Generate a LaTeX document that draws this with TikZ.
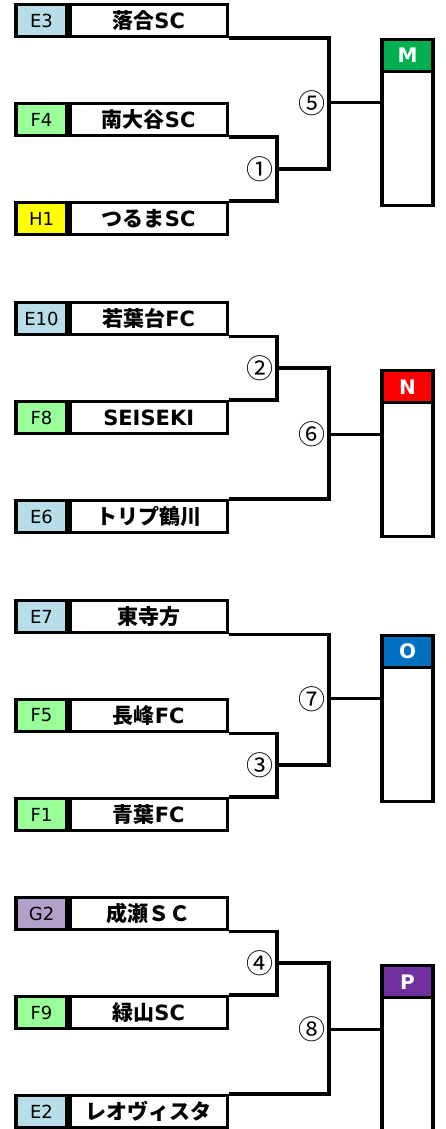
\documentclass[tikz,border=0pt]{standalone}
\usepackage{fontspec}
\usetikzlibrary{positioning}
\newfontfamily\latfont{DejaVu Sans}
\newfontfamily\jpfont{Noto Sans CJK JP}
\newcommand\jp[1]{{\jpfont\bfseries #1}}
\definecolor{seedE}{HTML}{B7DEE8}
\definecolor{seedF}{HTML}{99FF99}
\definecolor{seedG}{HTML}{B1A0C7}
\definecolor{seedH}{HTML}{FFFF00}
\definecolor{blockM}{HTML}{00B050}
\definecolor{blockN}{HTML}{FF0000}
\definecolor{blockO}{HTML}{0070C0}
\definecolor{blockP}{HTML}{7030A0}
\tikzset{
    wire/.style={line width=3.2pt},
    seed/.style={draw, line width=3.2pt, minimum width=51pt, minimum height=32pt, inner sep=0pt,
        font=\latfont\fontsize{18}{18}\selectfont},
    team/.style={draw, line width=3.2pt, minimum width=157pt, minimum height=32pt, inner sep=0pt,
        font=\latfont\bfseries\fontsize{21}{21}\selectfont},
    final/.style={draw, line width=3.2pt, minimum width=51pt, minimum height=166pt, anchor=north},
    head/.style={draw, line width=3.2pt, minimum width=51pt, minimum height=32pt, inner sep=0pt,
        anchor=north, text=white, font=\latfont\bfseries\fontsize{20}{20}\selectfont},
    match/.style={anchor=east, inner sep=0pt, font=\jpfont\fontsize{27}{27}\selectfont},
}

\begin{document}
\begin{tikzpicture}[x=1pt, y=1pt]
    \useasboundingbox (0,0) rectangle (445,-1129);
    % block M
    \begin{scope}
        \node[seed, fill=seedE] (sE3) at (41.5,-20.5) {E3};
        \node[team, right=0pt of sE3] (tE3) {\jp{落合}SC};
        \node[seed, fill=seedF] (sF4) at (41.5,-119.5) {F4};
        \node[team, right=0pt of sF4] (tF4) {\jp{南大谷}SC};
        \node[seed, fill=seedH] (sH1) at (41.5,-218.5) {H1};
        \node[team, right=0pt of sH1] (tH1) {\jp{つるま}SC};
        \coordinate (w1) at (277,-169);
        \coordinate (w5) at (329,-102.75);
        \draw[wire] (tF4.south east) -| (w1) |- (tH1.north east);
        \draw[wire] (tE3.south east) -| (w5) |- (w1);
        \node[match] (m1) at ([xshift=-3pt]w1) {①};
        \node[match] (m5) at ([xshift=-3pt]w5) {⑤};
        \node[final] (fM) at (407.5,-37.75) {};
        \node[head, fill=blockM] (hM) at (fM.north) {M};
        \draw[wire] (w5) -- (w5 -| fM.west);
    \end{scope}
    % block N
    \begin{scope}[yshift=-298pt]
        \node[seed, fill=seedE] (sE10) at (41.5,-20.5) {E10};
        \node[team, right=0pt of sE10] (tE10) {\jp{若葉台}FC};
        \node[seed, fill=seedF] (sF8) at (41.5,-119.5) {F8};
        \node[team, right=0pt of sF8] (tF8) {SEISEKI};
        \node[seed, fill=seedE] (sE6) at (41.5,-218.5) {E6};
        \node[team, right=0pt of sE6] (tE6) {\jp{トリプ鶴川}};
        \coordinate (w2) at (277,-70);
        \coordinate (w6) at (329,-136.25);
        \draw[wire] (tE10.south east) -| (w2) |- (tF8.north east);
        \draw[wire] (tE6.north east) -| (w6) |- (w2);
        \node[match] (m2) at ([xshift=-3pt]w2) {②};
        \node[match] (m6) at ([xshift=-3pt]w6) {⑥};
        \node[final] (fN) at (407.5,-71.25) {};
        \node[head, fill=blockN] (hN) at (fN.north) {N};
        \draw[wire] (w6) -- (w6 -| fN.west);
    \end{scope}
    % block O
    \begin{scope}[yshift=-596pt]
        \node[seed, fill=seedE] (sE7) at (41.5,-20.5) {E7};
        \node[team, right=0pt of sE7] (tE7) {\jp{東寺方}};
        \node[seed, fill=seedF] (sF5) at (41.5,-119.5) {F5};
        \node[team, right=0pt of sF5] (tF5) {\jp{長峰}FC};
        \node[seed, fill=seedF] (sF1) at (41.5,-218.5) {F1};
        \node[team, right=0pt of sF1] (tF1) {\jp{青葉}FC};
        \coordinate (w3) at (277,-169);
        \coordinate (w7) at (329,-102.75);
        \draw[wire] (tF5.south east) -| (w3) |- (tF1.north east);
        \draw[wire] (tE7.south east) -| (w7) |- (w3);
        \node[match] (m3) at ([xshift=-3pt]w3) {③};
        \node[match] (m7) at ([xshift=-3pt]w7) {⑦};
        \node[final] (fO) at (407.5,-37.75) {};
        \node[head, fill=blockO] (hO) at (fO.north) {O};
        \draw[wire] (w7) -- (w7 -| fO.west);
    \end{scope}
    % block P
    \begin{scope}[yshift=-893pt]
        \node[seed, fill=seedG] (sG2) at (41.5,-20.5) {G2};
        \node[team, right=0pt of sG2] (tG2) {\jp{成瀬ＳＣ}};
        \node[seed, fill=seedF] (sF9) at (41.5,-119.5) {F9};
        \node[team, right=0pt of sF9] (tF9) {\jp{緑山}SC};
        \node[seed, fill=seedE] (sE2) at (41.5,-218.5) {E2};
        \node[team, right=0pt of sE2] (tE2) {\jp{レオヴィスタ}};
        \coordinate (w4) at (277,-70);
        \coordinate (w8) at (329,-136.25);
        \draw[wire] (tG2.south east) -| (w4) |- (tF9.north east);
        \draw[wire] (tE2.north east) -| (w8) |- (w4);
        \node[match] (m4) at ([xshift=-3pt]w4) {④};
        \node[match] (m8) at ([xshift=-3pt]w8) {⑧};
        \node[final] (fP) at (407.5,-71.25) {};
        \node[head, fill=blockP] (hP) at (fP.north) {P};
        \draw[wire] (w8) -- (w8 -| fP.west);
    \end{scope}
\end{tikzpicture}
\end{document}
